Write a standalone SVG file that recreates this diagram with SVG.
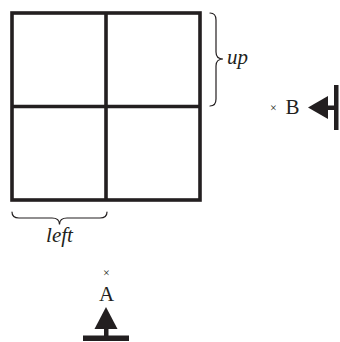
<svg xmlns="http://www.w3.org/2000/svg" width="340" height="342" viewBox="0 0 340 342">
<style>
.grid{fill:none;stroke:#231f20;stroke-width:3.6}
.brace{fill:none;stroke:#231f20;stroke-width:1.2;stroke-linecap:round}
text{font-family:'Liberation Serif','DejaVu Serif',serif;fill:#231f20}
.lbl{font-size:21px}
.it{font-style:italic}
.x{font-size:12px}
.ar{fill:#231f20}
</style>
<rect width="340" height="342" fill="#fff"/>
<g id="grid">
<rect class="grid" x="12" y="13" width="188" height="187"/>
<line class="grid" x1="106" y1="13" x2="106" y2="200"/>
<line class="grid" x1="12" y1="106.5" x2="200" y2="106.5"/>
</g>
<g id="connectors">
<path class="brace" d="M210,13 Q216,13 216,20 L216,52 Q216,59 223,59 Q216,59 216,66 L216,99 Q216,106 210,106"/>
<path class="brace" d="M12,212 Q12,218 19,218 L52,218 Q59.5,218 59.5,224.5 Q59.5,218 67,218 L100,218 Q107,218 107,212"/>
</g>
<g id="up-label"><text class="lbl it" x="227" y="64">up</text></g>
<g id="left-label"><text class="lbl it" x="59.5" y="242" text-anchor="middle">left</text></g>
<g id="B">
<text class="x" x="273.5" y="111.5" text-anchor="middle">×</text>
<text class="lbl" x="292.5" y="114" text-anchor="middle">B</text>
<polygon class="ar" points="308,107.5 328,96 328,119"/>
<rect class="ar" x="327" y="105.5" width="8" height="4.5"/>
<rect class="ar" x="334" y="85" width="4.5" height="45"/>
</g>
<g id="A">
<text class="x" x="106.5" y="276.5" text-anchor="middle">×</text>
<text class="lbl" x="106.5" y="301" text-anchor="middle">A</text>
<polygon class="ar" points="106,307 94.5,329 117.5,329"/>
<rect class="ar" x="104" y="328" width="4.5" height="8"/>
<rect class="ar" x="83" y="335.5" width="46" height="5.5"/>
</g>
</svg>
